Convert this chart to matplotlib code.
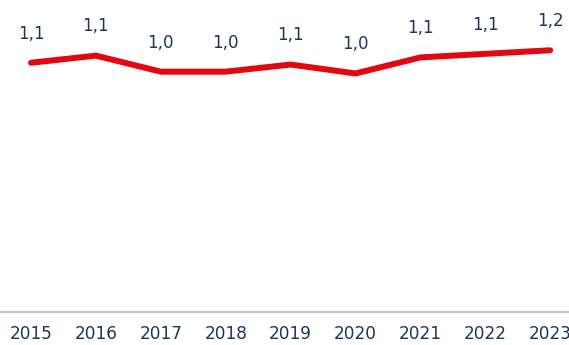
import matplotlib
matplotlib.use("Agg")
import matplotlib.pyplot as plt

# Series data
years = ["2015", "2016", "2017", "2018", "2019", "2020", "2021", "2022", "2023"]
values = [1.09, 1.13, 1.04, 1.04, 1.08, 1.03, 1.12, 1.14, 1.16]

RED = "#e30613"
NAVY = "#1b365d"
GRID = "#c8c8c8"

plt.rcParams["font.family"] = ["DejaVu Sans"]

fig = plt.figure(figsize=(5.69, 3.45), dpi=100)
ax = fig.add_axes([0, 33 / 345, 1, 312 / 345])

x = list(range(len(years)))
ax.plot(x, values, color=RED, linewidth=4.3, solid_capstyle="round",
        solid_joinstyle="miter")

for xi, v in zip(x, values):
    ax.annotate(f"{v:.1f}".replace(".", ","), (xi, v), xytext=(0, 21),
                textcoords="offset points", ha="center", va="center",
                fontsize=12, color=NAVY)

ax.set_xlim(-0.478, 8.29)
ax.set_ylim(-0.308, 1.442)
ax.set_xticks(x)
ax.set_xticklabels(years, fontsize=12.2, color=NAVY)
ax.set_yticks([])
ax.tick_params(axis="x", length=0, pad=9.5)

for side in ("top", "left", "right"):
    ax.spines[side].set_visible(False)
ax.spines["bottom"].set_color(GRID)
ax.spines["bottom"].set_linewidth(1.6)

fig.savefig("out.png", dpi=100)
